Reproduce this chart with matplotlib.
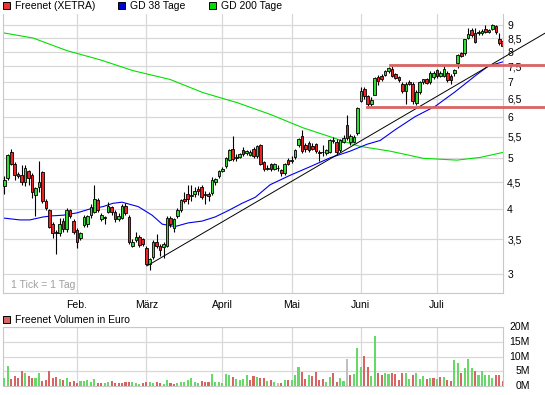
import matplotlib
matplotlib.use('Agg')
import matplotlib.pyplot as plt
import matplotlib.transforms as mtransforms
from matplotlib.patches import Rectangle
from matplotlib.ticker import NullLocator
import numpy as np

plt.rcParams['font.family'] = ['Liberation Sans', 'DejaVu Sans']
plt.rcParams['font.size'] = 7.5

# daily candles (trading day index 0 = first day of January)
opens = [4.42, 4.58, 5.15, 4.88, 4.66, 4.65, 4.50, 4.72, 4.65, 4.25,
         4.40, 4.70, 4.15, 3.98, 3.75, 3.62, 3.60, 3.80, 3.66, 3.98,
         3.80, 3.65, 3.52, 3.72, 3.74, 3.89, 3.94, 4.16, 3.83, 3.85,
         3.95, 4.03, 3.94, 3.82, 3.85, 4.05, 3.86, 3.40, 3.48, 3.53,
         3.50, 3.37, 3.14, 3.24, 3.45, 3.40, 3.38, 3.40, 3.85, 3.67,
         3.87, 3.98, 4.18, 4.28, 4.24, 4.28, 4.37, 4.40, 4.28, 4.28,
         4.29, 4.50, 4.62, 4.73, 4.83, 4.97, 5.20, 5.00, 5.03, 5.18,
         5.12, 5.08, 5.20, 5.06, 5.31, 4.92, 4.78, 4.87, 4.78, 4.80,
         4.75, 4.68, 4.97, 4.93, 5.02, 5.30, 5.52, 5.30, 5.35, 5.29,
         5.33, 5.14, 5.15, 5.12, 5.15, 5.42, 5.38, 5.18, 5.38, 5.78,
         5.38, 5.38, 5.60, 6.45, 6.78, 6.57, 6.36, 6.62, 7.16, 7.20,
         7.23, 7.36, 7.40, 7.25, 7.15, 6.95, 6.72, 7.00, 6.95, 6.38,
         6.70, 7.00, 7.08, 7.00, 7.15, 7.38, 7.20, 7.20, 7.30, 7.20,
         7.28, 7.60, 7.95, 7.95, 8.50, 8.80, 8.70, 8.68, 8.70, 8.85,
         8.73, 8.85, 8.98, 8.45, 8.40]
highs = [4.62, 5.10, 5.22, 4.92, 4.70, 4.85, 4.85, 4.75, 4.68, 4.40,
         4.95, 4.72, 4.18, 4.00, 3.78, 3.65, 3.85, 3.85, 4.02, 4.00,
         3.82, 3.68, 3.62, 3.90, 3.90, 4.08, 4.45, 4.20, 3.93, 3.88,
         4.12, 4.06, 3.98, 3.92, 4.08, 4.10, 3.90, 3.50, 3.62, 3.56,
         3.52, 3.40, 3.22, 3.48, 3.58, 3.43, 3.46, 3.87, 3.88, 3.84,
         4.02, 4.18, 4.30, 4.44, 4.45, 4.40, 4.42, 4.45, 4.32, 4.30,
         4.60, 4.58, 4.75, 4.82, 5.02, 5.20, 5.52, 5.10, 5.12, 5.25,
         5.18, 5.18, 5.25, 5.30, 5.33, 4.95, 4.85, 4.90, 4.90, 4.85,
         4.78, 4.90, 5.00, 5.05, 5.20, 5.47, 5.67, 5.35, 5.40, 5.35,
         5.36, 5.18, 5.30, 5.20, 5.45, 5.50, 5.45, 5.45, 5.55, 6.04,
         5.56, 5.55, 6.28, 6.85, 6.85, 6.60, 6.55, 7.15, 7.22, 7.25,
         7.38, 7.48, 7.52, 7.30, 7.20, 7.00, 7.00, 7.05, 7.00, 6.75,
         7.02, 7.10, 7.12, 7.35, 7.35, 7.42, 7.35, 7.55, 7.35, 7.25,
         7.42, 7.92, 8.00, 8.48, 8.90, 8.88, 8.90, 8.80, 8.85, 9.00,
         8.85, 9.05, 9.02, 8.70, 8.45]
lows = [4.28, 4.55, 4.85, 4.55, 4.58, 4.45, 4.42, 4.45, 4.20, 3.88,
        4.30, 4.10, 3.98, 3.68, 3.52, 3.28, 3.55, 3.62, 3.62, 3.85,
        3.58, 3.36, 3.48, 3.70, 3.70, 3.85, 3.92, 3.95, 3.80, 3.75,
        3.92, 3.90, 3.78, 3.80, 3.82, 3.90, 3.42, 3.38, 3.46, 3.38,
        3.40, 3.12, 3.05, 3.20, 3.36, 3.25, 3.22, 3.38, 3.70, 3.62,
        3.85, 3.95, 4.10, 4.08, 4.15, 4.22, 4.25, 4.18, 4.08, 4.15,
        4.25, 4.45, 4.58, 4.70, 4.80, 4.95, 4.95, 4.95, 5.00, 5.05,
        5.08, 5.05, 5.00, 5.00, 4.85, 4.72, 4.74, 4.73, 4.75, 4.72,
        4.62, 4.65, 4.85, 4.90, 4.98, 5.25, 5.12, 5.15, 5.15, 5.18,
        5.12, 4.95, 5.05, 5.08, 5.12, 5.35, 5.10, 5.15, 5.35, 5.42,
        5.30, 5.35, 5.55, 6.40, 6.50, 6.30, 6.30, 6.60, 6.90, 7.02,
        7.20, 7.30, 7.15, 7.08, 7.00, 6.68, 6.36, 6.90, 6.36, 6.33,
        6.65, 6.95, 6.95, 6.95, 7.10, 7.12, 7.15, 7.15, 7.00, 6.95,
        7.20, 7.45, 7.80, 7.90, 8.45, 8.55, 8.30, 8.60, 8.60, 8.70,
        8.68, 8.80, 8.65, 8.25, 8.15]
closes = [4.55, 5.07, 4.88, 4.64, 4.62, 4.50, 4.80, 4.58, 4.30, 4.38,
          4.50, 4.15, 4.02, 3.70, 3.60, 3.60, 3.75, 3.66, 3.98, 3.88,
          3.62, 3.45, 3.60, 3.86, 3.87, 4.03, 4.18, 3.98, 3.90, 3.86,
          4.05, 3.94, 3.82, 3.88, 4.05, 3.92, 3.45, 3.46, 3.53, 3.41,
          3.42, 3.14, 3.20, 3.45, 3.40, 3.33, 3.43, 3.85, 3.74, 3.82,
          3.98, 4.16, 4.14, 4.18, 4.26, 4.32, 4.32, 4.22, 4.25, 4.23,
          4.54, 4.56, 4.72, 4.78, 5.00, 5.18, 4.98, 5.03, 5.10, 5.10,
          5.16, 5.15, 5.04, 5.27, 4.88, 4.77, 4.80, 4.77, 4.88, 4.80,
          4.68, 4.88, 4.87, 4.96, 5.18, 5.44, 5.16, 5.20, 5.18, 5.22,
          5.17, 5.12, 5.14, 5.18, 5.42, 5.40, 5.14, 5.41, 5.47, 5.47,
          5.52, 5.50, 6.23, 6.72, 6.57, 6.36, 6.48, 7.12, 7.04, 7.08,
          7.34, 7.45, 7.18, 7.12, 7.05, 6.72, 6.95, 6.95, 6.43, 6.70,
          7.00, 7.08, 6.98, 7.30, 7.30, 7.18, 7.30, 7.40, 7.05, 7.05,
          7.38, 7.90, 7.85, 8.45, 8.65, 8.60, 8.35, 8.72, 8.78, 8.73,
          8.80, 9.00, 8.72, 8.30, 8.22]

# volume in million euro and its colour (g up, r down, n unchanged)
volume = [2.8, 6.7, 2.3, 3.3, 2.8, 5.0, 4.4, 3.3, 2.8, 2.8,
          4.4, 1.8, 2.0, 5.0, 2.8, 3.1, 2.3, 2.0, 2.8, 1.4,
          1.7, 1.1, 1.7, 1.7, 2.0, 1.4, 2.3, 1.1, 1.1, 0.9,
          1.2, 1.7, 1.1, 1.1, 1.0, 1.4, 1.4, 1.4, 1.1, 0.8,
          1.1, 1.4, 1.4, 0.9, 1.4, 0.9, 0.8, 2.0, 1.1, 0.8,
          1.1, 1.4, 1.2, 2.0, 2.6, 1.4, 1.1, 1.7, 1.4, 1.4,
          4.0, 1.4, 1.4, 1.1, 4.0, 3.7, 3.1, 2.3, 2.0, 2.3,
          3.7, 2.0, 3.3, 2.9, 2.6, 2.6, 1.7, 2.0, 1.3, 1.0,
          1.0, 2.0, 2.0, 2.0, 3.7, 6.3, 4.7, 2.3, 3.7, 3.3,
          4.7, 2.0, 2.3, 1.3, 3.0, 4.3, 1.3, 2.7, 1.7, 9.0,
          3.7, 4.0, 13.0, 6.3, 10.3, 6.3, 3.3, 17.0, 4.3, 3.7,
          4.3, 4.0, 4.3, 4.0, 2.0, 4.3, 4.3, 2.3, 3.7, 4.3,
          2.3, 3.3, 2.3, 2.7, 2.7, 2.3, 3.0, 3.0, 2.0, 1.7,
          8.7, 7.7, 4.3, 6.0, 9.0, 6.0, 5.0, 3.7, 5.0, 3.7,
          3.7, 2.7, 3.7, 3.7, 1.7]
vol_dir = ("ggrrrrgrrg" "grrrrrgrgr" "rrgggggrrg" "grrrrrrggg" "rrggrrggrr"
           "gggggggrrr" "ggggggrggg" "grrgrrgrgn" "rgrgggrrgr" "rrrggrrggn"
           "rgggrrggrr" "ggrrrrggrg" "ggrgrgrgrr" "ggrgggrggg" "ggrrr")

# moving averages read at some days
gd38_day = [0, 4.5, 7.4, 11.2, 14, 17, 21, 24.8, 28.5, 31.4, 34, 38.7, 42.7,
            45.6, 49.3, 53.1, 57.1, 60.9, 64.7, 68.7, 72.5, 76.8, 82.6, 88.4,
            94.1, 99.9, 104.8, 108.6, 112.9, 118.7, 124.5, 130.3, 136, 139.8, 144]
gd38_val = [3.84, 3.81, 3.81, 3.86, 3.88, 3.89, 3.93, 4.00, 4.04, 4.10, 4.12,
            4.04, 3.89, 3.74, 3.70, 3.76, 3.79, 3.86, 3.97, 4.10, 4.21, 4.45,
            4.64, 4.82, 5.01, 5.16, 5.32, 5.41, 5.67, 6.01, 6.29, 6.71, 7.19,
            7.51, 7.65]
gd200_day = [0, 8.3, 18.1, 27.7, 37.2, 47.9, 57.4, 67.3, 76.8, 86.3, 94.1,
             99.9, 102.8, 111.5, 121, 130.8, 137.5, 144]
gd200_val = [8.69, 8.50, 8.04, 7.72, 7.36, 7.08, 6.68, 6.39, 6.07, 5.72, 5.50,
             5.34, 5.27, 5.16, 5.00, 4.96, 5.02, 5.13]

trend_day = [41.2, 156.3]
trend_val = [3.11, 8.69]
upper_day = [111.5, 156.3]
upper_val = 7.53
lower_day = [104.8, 156.3]
lower_val = 6.28

month_day = [21, 41, 63, 83, 103, 125]
month_names = ['Feb.', 'März', 'April', 'Mai', 'Juni', 'Juli']
price_ticks = [3, 3.5, 4, 4.5, 5, 5.5, 6, 6.5, 7, 7.5, 8, 8.5, 9]
vol_ticks = [0, 5, 10, 15, 20]

W, H = 545, 395
grid_col = '#d8d8d8'
fig = plt.figure(figsize=(W / 100, H / 100), dpi=100)
ax = fig.add_axes([3 / W, (H - 293) / H, 500 / W, 279 / H])
axv = fig.add_axes([3 / W, (H - 386) / H, 500 / W, 59 / H])

days = np.arange(len(closes))
o = np.array(opens)
c = np.array(closes)

# price panel
ax.set_yscale('log')
ax.set_ylim(2.76, 9.45)
ax.set_xlim(-0.38, 144.07)
ax.set_yticks(price_ticks)
ax.set_yticklabels([('%g' % t).replace('.', ',') for t in price_ticks])
ax.yaxis.set_minor_locator(NullLocator())
ax.yaxis.tick_right()
ax.set_xticks(month_day)
ax.set_xticklabels(month_names)
ax.tick_params(length=0, pad=3, labelsize=7.5)
ax.tick_params(axis='x', pad=5)
ax.grid(True, color=grid_col, lw=0.9)
ax.set_axisbelow(True)
for s in ['left', 'bottom', 'right']:
    ax.spines[s].set_color('#c8c8c8')
ax.spines['top'].set_visible(False)

ax.plot(gd200_day, gd200_val, color='#00e000', lw=0.8)
ax.plot(gd38_day, gd38_val, color='#0000ee', lw=0.8)

ax.vlines(days, lows, highs, color='black', lw=0.8, zorder=3)
body_col = ['#33dd33' if cc >= oo else '#ee2222' for oo, cc in zip(o, c)]
ax.bar(days, np.abs(c - o), bottom=np.minimum(o, c), width=0.75,
       color=body_col, edgecolor='black', linewidth=0.6, zorder=4)

ax.plot(trend_day, trend_val, color='black', lw=0.7, clip_on=False, zorder=5)
ax.plot(upper_day, [upper_val] * 2, color='#d86464', lw=2, clip_on=False, zorder=5)
ax.plot(lower_day, [lower_val] * 2, color='#d86464', lw=2, clip_on=False, zorder=5)

ax.text(2, 2.86, '1 Tick = 1 Tag', color='#a0a0a0', fontsize=7.5, va='center')

# volume panel
vcol = {'g': '#66d966', 'r': '#d96464', 'n': '#c0c0c0'}
axv.bar(days, volume, width=0.6, color=[vcol[d] for d in vol_dir], zorder=3)
axv.set_xlim(-0.38, 144.07)
axv.set_ylim(0, 20)
axv.set_yticks(vol_ticks)
axv.set_xticks(month_day)
axv.set_xticklabels([])
axv.set_yticklabels([])
axv.tick_params(length=0)
axv.grid(True, color=grid_col, lw=0.9)
axv.set_axisbelow(True)
for s in ['left', 'bottom', 'right', 'top']:
    axv.spines[s].set_color('#c8c8c8')
trans = mtransforms.blended_transform_factory(axv.transAxes, axv.transData)
for v in vol_ticks:
    axv.text(1 + 27 / 500, v, '%dM' % v, transform=trans, ha='right', va='center',
             fontsize=7.5)

# legends
def legendBox(x, ytop, color, text):
    fig.patches.append(Rectangle((x / W, 1 - (ytop + 7) / H), 7 / W, 7 / H,
                                 facecolor=color, edgecolor='black', lw=0.7,
                                 transform=fig.transFigure))
    fig.text((x + 12) / W, 1 - (ytop + 3.8) / H, text, va='center', fontsize=7.5)

legendBox(3, 2, '#ee3333', 'Freenet (XETRA)')
legendBox(118, 2, '#0000dd', 'GD 38 Tage')
legendBox(209, 2, '#00dd00', 'GD 200 Tage')
legendBox(3, 316, '#d96464', 'Freenet Volumen in Euro')

plt.savefig('out.png', dpi=100)
